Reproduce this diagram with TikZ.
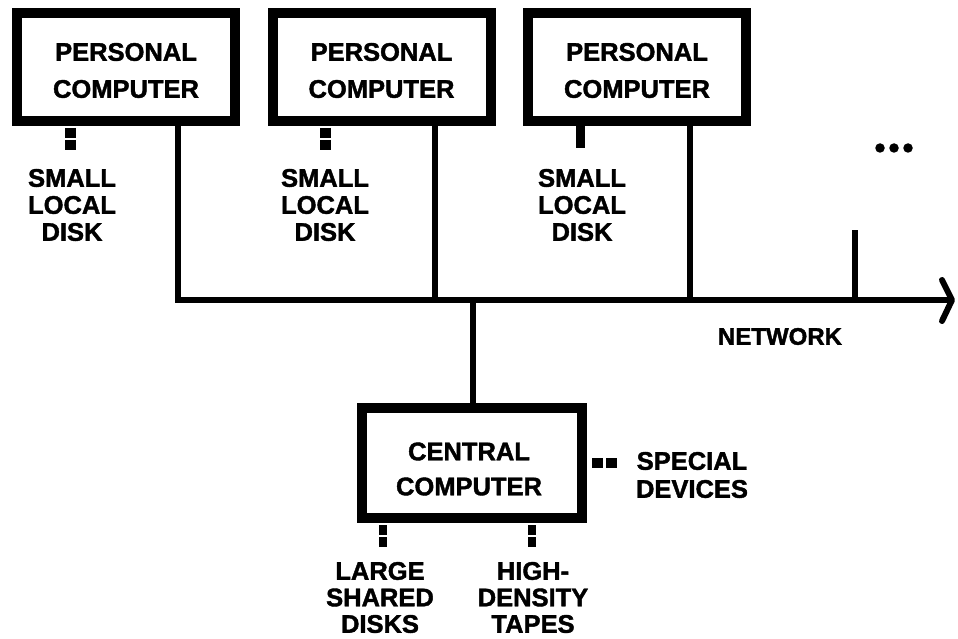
\documentclass[tikz,border=0pt]{standalone}
\usepackage{fontspec}
\setmainfont{Liberation Sans}[BoldFeatures={FakeBold=1.6}]
\begin{document}
\begin{tikzpicture}[x=1pt,y=-1pt,
  pcbox/.style={draw, line width=10pt, minimum width=218pt, minimum height=108pt, inner sep=0pt, outer sep=0pt},
  boxtext/.style={font=\fontsize{25.5}{37}\selectfont\bfseries, align=center, inner sep=0pt},
  lbl/.style={font=\fontsize{25.5}{27}\selectfont\bfseries, align=center, inner sep=0pt},
  net/.style={line width=6pt},
  diskdots/.style={line width=11pt, dash pattern=on 10pt off 2pt},
  disksolid/.style={line width=9pt},
  dot/.style={circle, fill, inner sep=0pt, minimum size=9.5pt}
]
\useasboundingbox (0,0) rectangle (958,639);

% personal computers
\node[pcbox] (pc1) at (126,67) {};
\node[pcbox] (pc2) at (381.5,67) {};
\node[pcbox] (pc3) at (637,67) {};
\node[boxtext] (pc1t) at (126,70.5) {PERSONAL\\COMPUTER};
\node[boxtext] (pc2t) at (381.5,70.5) {PERSONAL\\COMPUTER};
\node[boxtext] (pc3t) at (637,70.5) {PERSONAL\\COMPUTER};

% small local disks
\node[lbl] (d1) at (72,205) {SMALL\\LOCAL\\DISK};
\node[lbl] (d2) at (325,205) {SMALL\\LOCAL\\DISK};
\node[lbl] (d3) at (582,205) {SMALL\\LOCAL\\DISK};
\draw[diskdots] (70,128) -- (70,152);
\draw[diskdots] (325,128) -- (325,152);
\draw[disksolid] (580,126) -- (580,148);

% central computer
\node[pcbox, minimum width=220pt, minimum height=110pt] (cc) at (472,463) {};
\node[boxtext, font=\fontsize{25.5}{35}\selectfont\bfseries] (cct) at (469,469) {CENTRAL\\COMPUTER};

% network bus
\coordinate (b1) at (178,300);
\coordinate (b2) at (435,300);
\coordinate (b3) at (690,300);
\coordinate (bc) at (473,300);
\coordinate (b4) at (855,300);
\coordinate (s4) at (855,230);
\coordinate (tip) at (952,300);
\draw[net] (pc1.south -| b1) -- (b1) -- (tip);
\draw[net] (pc2.south -| b2) -- (b2);
\draw[net] (pc3.south -| b3) -- (b3);
\draw[net] (s4) -- (b4);
\draw[net] (bc) -- (cc.north -| bc);
\draw[net, line cap=round, line join=round] (942,280) -- (tip) -- (942,321);
\node[lbl, font=\fontsize{24}{27}\selectfont\bfseries] (netl) at (780,336.5) {NETWORK};

% continuation dots
\node[dot] (e1) at (880,148) {};
\node[dot] (e2) at (894,148) {};
\node[dot] (e3) at (908,148) {};

% central peripherals
\draw[line width=10pt, dash pattern=on 11pt off 3pt] (592,463) -- (618,463);
\node[lbl, font=\fontsize{25.5}{28}\selectfont\bfseries] (spec) at (692,475) {SPECIAL\\DEVICES};
\draw[line width=8pt, dash pattern=on 10pt off 2pt] (383,525) -- (383,548);
\draw[line width=8pt, dash pattern=on 10pt off 2pt] (532,525) -- (532,548);
\node[lbl, font=\fontsize{25.5}{26.5}\selectfont\bfseries] (lsd) at (380,597.5) {LARGE\\SHARED\\DISKS};
\node[lbl, font=\fontsize{25.5}{26.5}\selectfont\bfseries] (hdt) at (533,597.5) {HIGH-\\DENSITY\\TAPES};
\end{tikzpicture}
\end{document}
